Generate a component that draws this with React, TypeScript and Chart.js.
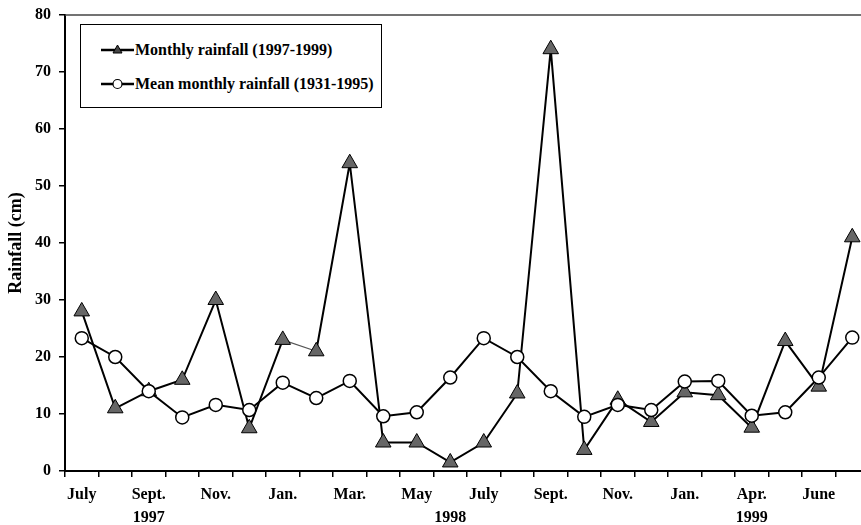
import React, { useEffect, useRef } from "react";
import { Chart, registerables } from "chart.js";
Chart.register(...registerables);

const categories = [
  "Jul 97", "Aug 97", "Sep 97", "Oct 97", "Nov 97", "Dec 97",
  "Jan 98", "Feb 98", "Mar 98", "Apr 98", "May 98", "Jun 98",
  "Jul 98", "Aug 98", "Sep 98", "Oct 98", "Nov 98", "Dec 98",
  "Jan 99", "Feb 99", "Mar 99", "Apr 99", "May 99", "Jun 99",
];
const tickLabels = [
  "July", "", "Sept.", "", "Nov.", "", "Jan.", "", "Mar.", "", "May", "",
  "July", "", "Sept.", "", "Nov.", "", "Jan.", "", "Apr.", "", "June", "",
];
const yearLabels = [
  "", "", "1997", "", "", "", "", "", "", "", "", "1998",
  "", "", "", "", "", "", "", "", "1999", "", "", "",
];
const monthlyRainfall = [
  28, 11, 14, 16, 30, 7.5, 23, 21, 54, 5, 5, 1.5,
  5, 13.6, 74, 3.7, 12.5, 8.6, 13.8, 13.3, 7.6, 22.8, 14.8, 41,
];
const meanRainfall = [
  23.3, 20, 14, 9.4, 11.6, 10.7, 15.5, 12.8, 15.8, 9.6, 10.3, 16.4,
  23.3, 20, 14, 9.5, 11.6, 10.7, 15.7, 15.8, 9.7, 10.3, 16.4, 23.4,
];
const yTicks = [0, 10, 20, 30, 40, 50, 60, 70, 80];

const FONT = "'Liberation Serif', 'Times New Roman', serif";

const topFrame = {
  id: "topFrame",
  afterDraw(chart: any) {
    const { ctx, chartArea } = chart;
    ctx.save();
    ctx.strokeStyle = "#444";
    ctx.lineWidth = 1.5;
    ctx.beginPath();
    ctx.moveTo(chartArea.left, chartArea.top);
    ctx.lineTo(chartArea.right + 10, chartArea.top);
    ctx.stroke();
    ctx.restore();
  },
};

function LegendMarker({ kind }: { kind: "tri" | "circle" }) {
  return (
    <svg width="33" height="16" style={{ display: "block" }}>
      <line x1="0" y1="8" x2="33" y2="8" stroke="#000" strokeWidth="2.5" />
      {kind === "tri" ? (
        <polygon points="16.5,3 21,11 12,11" fill="#444" stroke="#000" strokeWidth="1" />
      ) : (
        <circle cx="16.5" cy="8" r="4.5" fill="#fff" stroke="#000" strokeWidth="1.2" />
      )}
    </svg>
  );
}

export default function App() {
  const ref = useRef<HTMLCanvasElement>(null);
  useEffect(() => {
    if (!ref.current) return;
    const chart = new Chart(ref.current, {
      type: "line",
      data: {
        labels: categories,
        datasets: [
          {
            label: "Monthly rainfall (1997-1999)",
            data: monthlyRainfall,
            borderColor: "#000",
            borderWidth: 2,
            pointStyle: "triangle",
            pointRadius: 9,
            pointBackgroundColor: "#666",
            pointBorderColor: "#000",
            pointBorderWidth: 1,
            order: 1,
            segment: {
              borderWidth: (c: any) => (c.p0DataIndex === 6 ? 1.2 : 2),
              borderColor: (c: any) => (c.p0DataIndex === 6 ? "#555" : "#000"),
            },
          },
          {
            label: "Mean monthly rainfall (1931-1995)",
            data: meanRainfall,
            borderColor: "#000",
            borderWidth: 2,
            pointStyle: "circle",
            pointRadius: 6.5,
            pointBackgroundColor: "#fff",
            pointBorderColor: "#000",
            pointBorderWidth: 1.5,
            order: 0,
          },
        ],
      },
      options: {
        animation: false,
        responsive: false,
        maintainAspectRatio: false,
        layout: { padding: { top: 15, left: 0, right: 0, bottom: 0 } },
        plugins: { legend: { display: false }, tooltip: { enabled: false } },
        scales: {
          x: {
            type: "category",
            offset: true,
            grid: {
              offset: true,
              drawOnChartArea: false,
              drawTicks: true,
              tickLength: 6,
              color: "#000",
              lineWidth: 1.5,
            },
            border: { color: "#000", width: 2 },
            ticks: {
              autoSkip: false,
              maxRotation: 0,
              padding: 7,
              color: "#000",
              font: { family: FONT, size: 16, weight: "bold", lineHeight: 1.4 },
              callback: (_v: any, i: number) => [tickLabels[i], yearLabels[i]],
            },
            afterFit: (s: any) => {
              s.height = 54;
              s.paddingLeft = 0;
              s.paddingRight = 0;
            },
          },
          y: {
            min: 0,
            max: 80,
            afterBuildTicks: (s: any) => {
              s.ticks = yTicks.map((v) => ({ value: v }));
            },
            grid: {
              drawOnChartArea: false,
              drawTicks: true,
              tickLength: 6,
              color: "#000",
              lineWidth: 1.5,
            },
            border: { color: "#000", width: 2 },
            ticks: {
              padding: 8,
              color: "#000",
              font: { family: FONT, size: 16, weight: "bold" },
            },
            title: {
              display: true,
              text: "Rainfall (cm)",
              color: "#000",
              padding: { top: 6, bottom: 0 },
              font: { family: FONT, size: 18, weight: "bold" },
            },
            afterFit: (s: any) => {
              s.width = 65;
              s.paddingTop = 0;
              s.paddingBottom = 0;
            },
          },
        },
      },
      plugins: [topFrame],
    } as any);
    return () => chart.destroy();
  }, []);

  const textStyle: React.CSSProperties = {
    fontFamily: FONT,
    fontWeight: "bold",
    fontSize: 16,
    color: "#000",
    whiteSpace: "nowrap",
    marginLeft: 1,
  };

  return (
    <div
      style={{
        position: "fixed",
        left: 0,
        top: 0,
        width: 861,
        height: 525,
        overflow: "hidden",
        background: "#fff",
      }}
    >
      <canvas ref={ref} width={879} height={525} style={{ display: "block" }} />
      <div
        style={{
          position: "absolute",
          left: 80,
          top: 24,
          width: 302,
          height: 84,
          border: "1px solid #000",
          background: "#fff",
          boxSizing: "border-box",
        }}
      >
        <div style={{ position: "absolute", left: 20, top: 16, display: "flex", alignItems: "center" }}>
          <LegendMarker kind="tri" />
          <span style={textStyle}>Monthly rainfall (1997-1999)</span>
        </div>
        <div style={{ position: "absolute", left: 20, top: 50, display: "flex", alignItems: "center" }}>
          <LegendMarker kind="circle" />
          <span style={textStyle}>Mean monthly rainfall (1931-1995)</span>
        </div>
      </div>
    </div>
  );
}
